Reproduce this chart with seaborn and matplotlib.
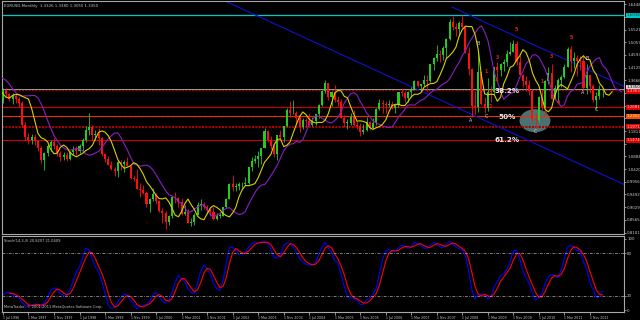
import numpy as np
import pandas as pd
import matplotlib
matplotlib.use("Agg")
import matplotlib.pyplot as plt
import matplotlib.transforms as mtransforms
from matplotlib.patches import Ellipse
import seaborn as sns

# ---------------- DATA ----------------
# warm-up months (Apr 1995 - Jun 1996), only used by the indicators (left of the view)
warmup_open0 = 1.390
warmup_close = [1.385, 1.380, 1.395, 1.390, 1.370, 1.380, 1.375, 1.385, 1.370, 1.360, 1.340, 1.310, 1.300, 1.305, 1.300]
warmup_high = [1.400, 1.395, 1.410, 1.405, 1.395, 1.392, 1.390, 1.398, 1.392, 1.378, 1.365, 1.345, 1.318, 1.320, 1.318]
warmup_low = [1.360, 1.365, 1.372, 1.375, 1.355, 1.362, 1.360, 1.368, 1.358, 1.345, 1.330, 1.300, 1.285, 1.290, 1.288]

# monthly bars Jul 1996 .. Mar 2012 (open = previous close)
close = [
    1.330, 1.315, 1.300, 1.310, 1.300, 1.285,
    1.205, 1.160, 1.150, 1.160, 1.145, 1.120, 1.075, 1.100, 1.125, 1.140, 1.125, 1.100,
    1.085, 1.095, 1.080, 1.105, 1.115, 1.110, 1.125, 1.150, 1.185, 1.195, 1.165, 1.172,
    1.1575, 1.0968, 1.0772, 1.0572, 1.0428, 1.0350, 1.0690, 1.0590, 1.0680, 1.0530, 1.0090, 1.0070,
    0.9710, 0.9660, 0.9560, 0.9150, 0.9320, 0.9520, 0.9270, 0.8880, 0.8830, 0.8500, 0.8700, 0.9400,
    0.9360, 0.9210, 0.8780, 0.8860, 0.8460, 0.8490, 0.8760, 0.9110, 0.9120, 0.9030, 0.8920, 0.8860,
    0.8600, 0.8700, 0.8720, 0.9020, 0.9330, 0.9880, 0.9780, 0.9800, 0.9860, 0.9880, 0.9930, 1.0490,
    1.0730, 1.0790, 1.0910, 1.1180, 1.1830, 1.1500, 1.1250, 1.0980, 1.1650, 1.1600, 1.1990, 1.2590,
    1.2460, 1.2480, 1.2300, 1.1960, 1.2200, 1.2170, 1.2020, 1.2180, 1.2420, 1.2750, 1.3280, 1.3560,
    1.3040, 1.3250, 1.2960, 1.2870, 1.2300, 1.2100, 1.2120, 1.2340, 1.2030, 1.1990, 1.1790, 1.1840,
    1.2160, 1.1920, 1.2110, 1.2620, 1.2820, 1.2790, 1.2760, 1.2810, 1.2670, 1.2760, 1.3240, 1.3200,
    1.3030, 1.3230, 1.3360, 1.3650, 1.3450, 1.3540, 1.3670, 1.3640, 1.4260, 1.4490, 1.4630, 1.4590,
    1.4860, 1.5180, 1.5790, 1.5600, 1.5550, 1.5750, 1.5610, 1.4680, 1.4090, 1.2730, 1.2700, 1.3980,
    1.2800, 1.2660, 1.3250, 1.3240, 1.4150, 1.4030, 1.4250, 1.4320, 1.4640, 1.4720, 1.5000, 1.4330,
    1.3860, 1.3630, 1.3510, 1.3290, 1.2270, 1.2230, 1.3050, 1.2680, 1.3630, 1.3930, 1.2990, 1.3380,
    1.3690, 1.3800, 1.4160, 1.4810, 1.4390, 1.4500, 1.4390, 1.4380, 1.3390, 1.3860, 1.3450, 1.2960,
    1.3080, 1.3326, 1.3350,
]
high = [
    1.340, 1.338, 1.322, 1.320, 1.318, 1.305,
    1.290, 1.215, 1.175, 1.170, 1.170, 1.150, 1.125, 1.105, 1.135, 1.150, 1.155, 1.135,
    1.110, 1.105, 1.105, 1.110, 1.125, 1.125, 1.135, 1.155, 1.200, 1.247, 1.205, 1.185,
    1.1906, 1.1609, 1.1007, 1.0889, 1.0727, 1.0498, 1.0770, 1.0770, 1.0760, 1.0880, 1.0540, 1.0200,
    1.0413, 0.9897, 0.9835, 0.9637, 0.9350, 0.9720, 0.9530, 0.9280, 0.9010, 0.8870, 0.8730, 0.9450,
    0.9590, 0.9400, 0.9360, 0.9100, 0.8950, 0.8640, 0.8830, 0.9200, 0.9310, 0.9210, 0.9090, 0.9050,
    0.9040, 0.8800, 0.8840, 0.9040, 0.9370, 0.9930, 1.0200, 0.9930, 0.9960, 0.9940, 1.0140, 1.0500,
    1.0860, 1.0930, 1.1080, 1.1190, 1.1930, 1.1860, 1.1640, 1.1370, 1.1670, 1.1860, 1.2000, 1.2640,
    1.2900, 1.2930, 1.2530, 1.2390, 1.2290, 1.2300, 1.2460, 1.2330, 1.2440, 1.2790, 1.3310, 1.3667,
    1.3570, 1.3280, 1.3480, 1.3090, 1.3000, 1.2400, 1.2250, 1.2480, 1.2590, 1.2190, 1.2120, 1.2080,
    1.2320, 1.2170, 1.2290, 1.2640, 1.2980, 1.2950, 1.2920, 1.2940, 1.2900, 1.2790, 1.3250, 1.3370,
    1.3270, 1.3260, 1.3420, 1.3680, 1.3660, 1.3550, 1.3850, 1.3850, 1.4280, 1.4520, 1.4970, 1.4780,
    1.4940, 1.5200, 1.5900, 1.6020, 1.5780, 1.5840, 1.6038, 1.5630, 1.4870, 1.4100, 1.3290, 1.4720,
    1.4000, 1.3070, 1.3740, 1.3450, 1.4170, 1.4340, 1.4300, 1.4450, 1.4770, 1.5060, 1.5144, 1.5120,
    1.4580, 1.3900, 1.3820, 1.3690, 1.3360, 1.2470, 1.3110, 1.3330, 1.3690, 1.4160, 1.4280, 1.3500,
    1.3750, 1.3860, 1.4250, 1.4880, 1.4940, 1.4700, 1.4580, 1.4540, 1.4550, 1.4250, 1.3870, 1.3550,
    1.3233, 1.3487, 1.3380,
]
low = [
    1.285, 1.305, 1.290, 1.280, 1.285, 1.270,
    1.195, 1.150, 1.135, 1.135, 1.130, 1.110, 1.065, 1.040, 1.090, 1.110, 1.115, 1.090,
    1.070, 1.075, 1.070, 1.075, 1.095, 1.095, 1.100, 1.110, 1.140, 1.165, 1.150, 1.150,
    1.1291, 1.0882, 1.0688, 1.0560, 1.0396, 1.0158, 1.0120, 1.0380, 1.0300, 1.0520, 1.0050, 0.9995,
    0.9700, 0.9389, 0.9500, 0.9044, 0.8845, 0.9270, 0.9160, 0.8860, 0.8450, 0.8230, 0.8380, 0.8640,
    0.9190, 0.9040, 0.8730, 0.8750, 0.8440, 0.8350, 0.8380, 0.8740, 0.8930, 0.8960, 0.8770, 0.8720,
    0.8570, 0.8560, 0.8640, 0.8700, 0.9000, 0.9330, 0.9620, 0.9610, 0.9660, 0.9690, 0.9830, 0.9870,
    1.0340, 1.0660, 1.0510, 1.0620, 1.1180, 1.1410, 1.1140, 1.0870, 1.0760, 1.1560, 1.1400, 1.1950,
    1.2340, 1.2420, 1.2080, 1.1760, 1.1900, 1.1960, 1.1990, 1.2010, 1.2040, 1.2280, 1.2720, 1.3200,
    1.2930, 1.2730, 1.2860, 1.2720, 1.2290, 1.1960, 1.1870, 1.2030, 1.2010, 1.1870, 1.1640, 1.1710,
    1.1830, 1.1860, 1.1870, 1.2040, 1.2590, 1.2480, 1.2460, 1.2690, 1.2620, 1.2480, 1.2700, 1.3100,
    1.2870, 1.2860, 1.3070, 1.3320, 1.3410, 1.3270, 1.3460, 1.3260, 1.3610, 1.4060, 1.4370, 1.4330,
    1.4400, 1.4500, 1.5130, 1.5520, 1.5300, 1.5300, 1.5580, 1.4660, 1.3880, 1.2330, 1.2420, 1.2500,
    1.2750, 1.2460, 1.2550, 1.2890, 1.3170, 1.3750, 1.3840, 1.4010, 1.4200, 1.4580, 1.4700, 1.4220,
    1.3860, 1.3440, 1.3270, 1.3120, 1.2150, 1.1876, 1.2150, 1.2590, 1.2660, 1.3520, 1.2970, 1.2970,
    1.2870, 1.3430, 1.3740, 1.4160, 1.3970, 1.4100, 1.3840, 1.4050, 1.3360, 1.3150, 1.3210, 1.2860,
    1.2624, 1.2973, 1.3055,
]

date_ticks = ["1 Jul 1996", "1 Mar 1997", "1 Nov 1997", "1 Jul 1998", "1 Mar 1999", "1 Nov 1999",
              "1 Jul 2000", "1 Mar 2001", "1 Nov 2001", "1 Jul 2002", "1 Mar 2003", "1 Nov 2003",
              "1 Jul 2004", "1 Mar 2005", "1 Nov 2005", "1 Jul 2006", "1 Mar 2007", "1 Nov 2007",
              "1 Jul 2008", "1 Mar 2009", "1 Nov 2009", "1 Jul 2010", "1 Mar 2011", "1 Nov 2011"]

# horizontal levels drawn on the chart
high_level = 1.6038
dotted_levels = [1.3303, 1.1971]
solid_levels = [1.2681, 1.1474]
orange_level = 1.2352

# trend lines (bar index, price)
lower_line_pts = [(100, 1.4938), (188, 1.0219)]
upper_line_pts = [(140.75, 1.6350), (188, 1.3806)]

# wave labels (bar index, price, text)
white_labels = [(146.7, 1.2216, "A"), (148.9, 1.4996, "B"), (151.7, 1.2326, "C"),
                (166.8, 1.1789, "C"), (181.8, 1.3240, "A"), (183.0, 1.4447, "B"),
                (185.9, 1.2582, "C")]
red_labels = [(151.6, 1.3983, "1"), (152.9, 1.2728, "2"), (154.9, 1.4484, "3"),
              (154.8, 1.3654, "4"), (160.8, 1.5508, "5"), (169.0, 1.3606, "1"),
              (169.9, 1.2436, "2"), (171.8, 1.4531, "3"), (174.2, 1.2849, "4"),
              (178.1, 1.5215, "5")]
fib_labels = [(157.9, 1.3277, "38.2%"), (157.9, 1.2326, "50%"), (157.9, 1.1485, "61.2%")]
ellipse_center = (166.8, 1.219)
ellipse_size = (9.7, 0.084)

title_text = "EURUSD,Monthly  1.3326 1.3380 1.3055 1.3350"
stoch_text = "Stoch(14,3,3) 20.8207 21.0409"
copyright_text = "MetaTrader, \u00a9 2001-2011 MetaQuotes Software Corp."

# ---------------- BUILD ----------------
n_w = len(warmup_close)
c_all = np.array(warmup_close + close)
h_all = np.array(warmup_high + high)
l_all = np.array(warmup_low + low)
o_all = np.r_[warmup_open0, c_all[:-1]]
x_all = np.arange(len(c_all)) - n_w

df = pd.DataFrame({"x": x_all, "o": o_all, "h": h_all, "l": l_all, "c": c_all})
df["ma_fast"] = df["c"].rolling(3).mean()
df["ma_slow"] = df["c"].rolling(5).mean()
ll = df["l"].rolling(14).min()
hh = df["h"].rolling(14).max()
df["k"] = 100 * (df["c"] - ll).rolling(3).sum() / (hh - ll).rolling(3).sum()
df["d"] = df["k"].rolling(3).mean()

sns.set_style("dark", {"axes.facecolor": "black", "figure.facecolor": "black"})
plt.rcParams["font.family"] = ["DejaVu Sans"]

BG = "black"
TXT = "#c8c8c8"
fig = plt.figure(figsize=(6.4, 3.2), dpi=100, facecolor=BG)
W, H = 640.0, 320.0
L0, R0 = 2, 624
ax = fig.add_axes([L0 / W, 1 - 234 / H, (R0 - L0) / W, 233 / H])
ax2 = fig.add_axes([L0 / W, 1 - 312 / H, (R0 - L0) / W, 76 / H])

xlim = (-0.3, 194.7)
for a in (ax, ax2):
    a.set_facecolor(BG)
    a.set_xlim(*xlim)
    a.grid(False)
    for s in a.spines.values():
        s.set_color("#a8a8a8")
        s.set_linewidth(0.8)
ax.set_ylim(0.8047, 1.6568)
ax2.set_ylim(-2.8, 104.2)

# levels
ax.axhline(high_level, color="#00c8c8", lw=0.9, zorder=1.5)
for lv in dotted_levels:
    ax.axhline(lv, color="#b00000", lw=1.5, ls=(0, (1, 0.6)), zorder=1.5)
for lv in solid_levels:
    ax.axhline(lv, color="#d00000", lw=0.8, zorder=1.5)
ax.axhline(orange_level, color="#e83000", lw=0.8, zorder=1.5)
ax.axhline(close[-1], color="#9a9a9a", lw=0.7, zorder=1.6)

# ellipse
ax.add_patch(Ellipse(ellipse_center, ellipse_size[0], ellipse_size[1],
                     facecolor="#5f8f8f", edgecolor="none", alpha=0.8, zorder=1.2))

# trend lines
ax.axline(lower_line_pts[0], lower_line_pts[1], color="#1010d0", lw=0.8, zorder=2)
(ux0, uy0), (ux1, uy1) = upper_line_pts
slope = (uy1 - uy0) / (ux1 - ux0)
ux_end = xlim[1] + 5
ax.plot([ux0, ux_end], [uy0, uy0 + slope * (ux_end - ux0)], color="#1010d0", lw=0.8, zorder=2)

# candles
up = df["c"] >= df["o"]
cols = np.where(up, "#22cc22", "#ff1010")
ax.vlines(df["x"], df["l"], df["h"], colors=cols, lw=0.6, zorder=3)
body = np.maximum((df["c"] - df["o"]).abs(), 0.0025)
ax.bar(df["x"], body, bottom=np.minimum(df["o"], df["c"]), width=0.64,
       color=cols, edgecolor="none", zorder=3.1)

# moving averages (shifted forward)
ma_f = pd.DataFrame({"x": df["x"] + 3, "y": df["ma_fast"]}).dropna()
ma_s = pd.DataFrame({"x": df["x"] + 6, "y": df["ma_slow"]}).dropna()
sns.lineplot(data=ma_s, x="x", y="y", ax=ax, color="#8b1ec4", lw=0.8, estimator=None, sort=False, zorder=4)
sns.lineplot(data=ma_f, x="x", y="y", ax=ax, color="#d8d000", lw=0.8, estimator=None, sort=False, zorder=4.1)

# labels on chart
for xi, yi, t in white_labels:
    ax.text(xi, yi, t, color="#d8d8d8", fontsize=3.4, ha="center", va="center", zorder=6)
for xi, yi, t in red_labels:
    ax.text(xi, yi, t, color="#e02020", fontsize=3.4, ha="center", va="center", zorder=6, fontweight="bold")
for xi, yi, t in fib_labels:
    ax.text(xi, yi, t, color="#e8e8e8", fontsize=5.2, ha="center", va="center", zorder=6, fontweight="bold")

# price axis (labels hidden where a level tag covers them, as in the terminal)
tagged = [high_level] + dotted_levels + solid_levels + [orange_level, close[-1]]
ticks = np.arange(1.6448, 0.80, -0.04637)
ax.set_yticks(ticks)
ax.set_yticklabels(["" if min(abs(t - p) for p in tagged) < 0.016 else f"{t:.4f}" for t in ticks])
ax.yaxis.tick_right()
ax.tick_params(axis="y", colors=TXT, labelsize=2.9, length=1.5, width=0.5, pad=0.8)
ax.tick_params(axis="x", bottom=False, labelbottom=False)
ax.set_xlabel("")
ax.set_ylabel("")

trans = mtransforms.blended_transform_factory(ax.transAxes, ax.transData)
def tag(price, fc, tc, dy=0.0):
    ax.text(1.0035, price + dy, f"{price:.4f}", transform=trans, fontsize=2.9, color=tc, va="center",
            ha="left", clip_on=False, zorder=8,
            bbox=dict(facecolor=fc, edgecolor="none", pad=0.35))
tag(high_level, "#00c8c8", "#004040")
tag(close[-1], "#d8d8d8", "#000000", dy=0.006)
for lv in dotted_levels + solid_levels:
    tag(lv, "#e00000", "#ffd0d0", dy=(-0.004 if lv == dotted_levels[0] else 0.0))
tag(orange_level, "#f05000", "#ffe0c0")

# stochastic
sk = df[["x", "k"]].dropna()
sd = df[["x", "d"]].dropna()
sns.lineplot(data=sk, x="x", y="k", ax=ax2, color="#0000ff", lw=0.8, estimator=None, sort=False)
sns.lineplot(data=sd, x="x", y="d", ax=ax2, color="#ff0000", lw=0.8, estimator=None, sort=False)
for lv in (20, 80):
    ax2.axhline(lv, color="#b0b0b0", lw=0.5, ls=(0, (4, 2, 1, 2)))
ax2.set_yticks([0, 20, 80, 100])
ax2.set_yticklabels(["0", "20", "80", "100"])
ax2.yaxis.tick_right()
ax2.tick_params(axis="y", colors=TXT, labelsize=2.9, length=1.5, width=0.5, pad=0.8)
ax2.set_xticks(np.arange(0, 8 * len(date_ticks), 8))
ax2.set_xticklabels(date_ticks)
for lab in ax2.get_xticklabels():
    lab.set_ha("left")
ax2.tick_params(axis="x", colors=TXT, labelsize=2.3, length=2, width=0.5, pad=0.6, bottom=True)
ax2.set_xlabel("")
ax2.set_ylabel("")

ax.text(0.003, 1 - 3 / 233, title_text, transform=ax.transAxes, fontsize=2.8, color=TXT, va="top", ha="left")
ax2.text(0.003, 1 - 2.5 / 76, stoch_text, transform=ax2.transAxes, fontsize=2.6, color=TXT, va="top", ha="left")
ax2.text(0.003, 3.0 / 76, copyright_text, transform=ax2.transAxes, fontsize=2.6, color=TXT, va="bottom", ha="left")

fig.savefig("out.png", dpi=100, facecolor=BG)
